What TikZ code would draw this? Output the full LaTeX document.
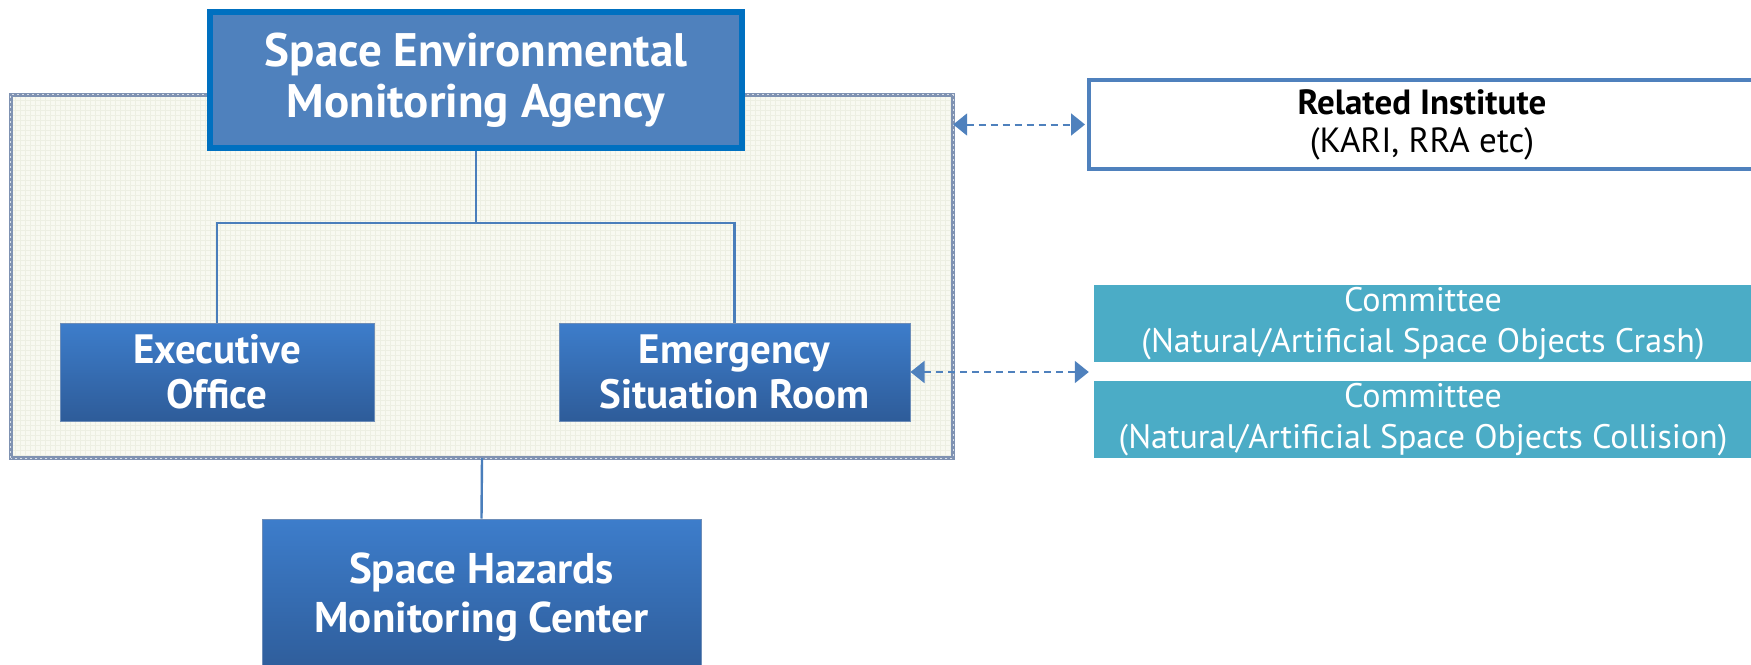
\documentclass[tikz,border=0pt]{standalone}
\usepackage{fontspec}
\setmainfont{PT Sans}
\usetikzlibrary{arrows.meta, positioning, calc}
\definecolor{agencyblue}{HTML}{4F81BD}
\definecolor{agencyedge}{HTML}{0070C0}
\definecolor{unittop}{HTML}{3D7DCB}
\definecolor{unitbottom}{HTML}{2E5C99}
\definecolor{committeeteal}{HTML}{4BACC6}
\definecolor{linkblue}{HTML}{4A7EBB}
\definecolor{panelcream}{HTML}{F8F9F1}
\definecolor{panelgrid}{HTML}{EDEFE3}
\definecolor{paneledge}{HTML}{7F92B2}

\tikzset{
  unitbox/.style={top color=unittop, bottom color=unitbottom, draw=unitbottom!70!white, line width=1pt,
    text=white, align=center, inner sep=0pt, font=\bfseries\fontsize{41}{45}\selectfont},
  committeebox/.style={fill=committeeteal, text=white, align=center, inner sep=0pt,
    minimum width=658pt, minimum height=77pt, font=\fontsize{34}{41}\selectfont},
  orgline/.style={linkblue, line width=2.4pt},
  dashlink/.style={agencyblue, line width=2pt, dash pattern=on 7pt off 5pt,
    {Triangle[length=14pt,width=22pt]}-{Triangle[length=14pt,width=22pt]}}
}

\begin{document}
\begin{tikzpicture}[x=1pt, y=-1pt]
  \useasboundingbox (0,0) rectangle (1751,664);
  \clip (0,0) rectangle (1751,664);

  % Agency panel behind the offices
  \node[fill=panelcream, minimum width=942pt, minimum height=363pt, inner sep=0pt] (panel) at (482,276.5) {};
  \draw[panelgrid, step=5pt] (panel.south west) grid (panel.north east);
  \draw[paneledge, line width=4pt] (panel.south west) rectangle (panel.north east);
  \draw[white!70!paneledge, line width=1pt, dash pattern=on 2pt off 3pt] (panel.south west) rectangle (panel.north east);

  % Head agency
  \node[fill=agencyblue, draw=agencyedge, line width=6pt, minimum width=532pt, minimum height=136pt,
    text=white, align=center, inner sep=0pt, font=\bfseries\fontsize{47}{51}\selectfont]
    (agency) at (476,80) {Space Environmental\\Monitoring Agency};

  % Offices inside the panel
  \node[unitbox, minimum width=314pt, minimum height=98pt] (exec) at (217,372) {Executive\\Office};
  \node[unitbox, minimum width=351pt, minimum height=98pt] (emerg) at (734.5,372) {Emergency\\Situation Room};

  % Center below the panel
  \node[unitbox, minimum width=439pt, minimum height=156pt, font=\bfseries\fontsize{43}{49}\selectfont]
    (hazards) at (481.5,597) {Space Hazards\\Monitoring Center};

  % Outside partners
  \node[fill=white, draw=agencyblue, line width=4pt, minimum width=666pt, minimum height=89pt,
    align=center, inner sep=0pt, font=\fontsize{35}{38}\selectfont]
    (related) at (1422,124.5) {{\bfseries Related Institute}\\(KARI, RRA etc)};
  \node[committeebox] (crash) at (1423,323.5) {Committee\\(Natural/Artificial Space Objects Crash)};
  \node[committeebox] (collision) at (1423,419.5) {Committee\\(Natural/Artificial Space Objects Collision)};

  % Organisation lines
  \draw[orgline] (agency.south) -- ++(0,72) coordinate (split) -| (exec.north);
  \draw[orgline] (split) -| (emerg.north);
  \draw[orgline] (panel.south) -- (hazards.north);

  % Cooperation links
  \coordinate (cgap) at ($(crash.south west)!0.5!(collision.north west)$);
  \draw[dashlink] (panel.east |- related.west) -- ([xshift=-2pt]related.west);
  \draw[dashlink] (emerg.east) -- ([xshift=-5pt]emerg.east -| cgap);
\end{tikzpicture}
\end{document}
